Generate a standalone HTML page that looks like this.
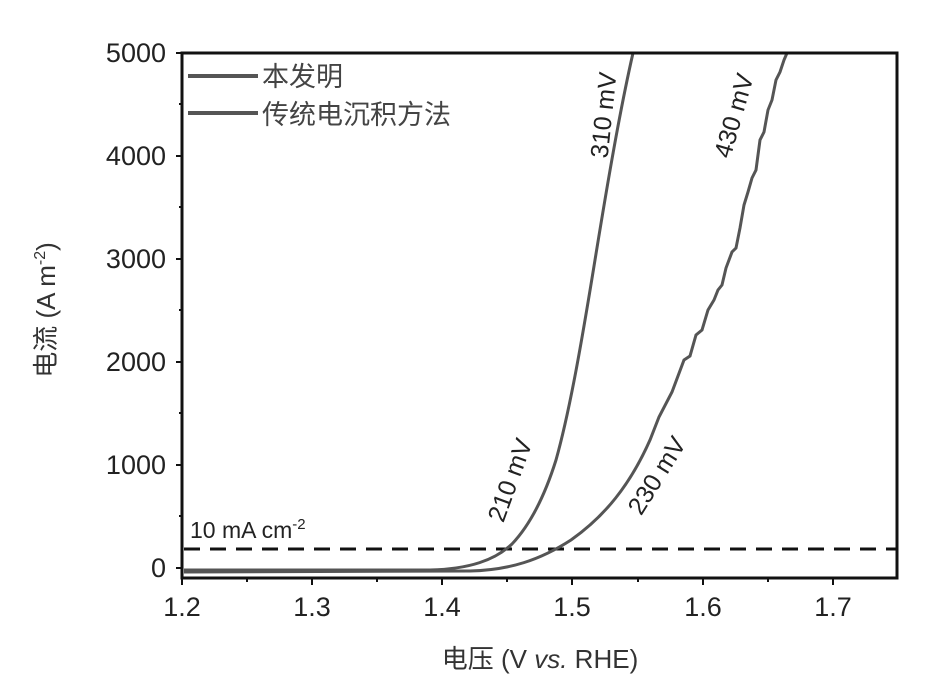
<!DOCTYPE html>
<html><head><meta charset="utf-8"><style>
body{margin:0;background:#fff}
svg text{font-family:"Liberation Sans","Noto Sans CJK SC",sans-serif;fill:#222}
</style></head><body>
<svg width="925" height="689" viewBox="0 0 925 689" xmlns="http://www.w3.org/2000/svg">
<g stroke="#111" stroke-width="2">
<line x1="182" y1="568" x2="176" y2="568"/><line x1="182" y1="465" x2="176" y2="465"/><line x1="182" y1="362" x2="176" y2="362"/><line x1="182" y1="259" x2="176" y2="259"/><line x1="182" y1="156" x2="176" y2="156"/><line x1="182" y1="53" x2="176" y2="53"/>
<line x1="182" y1="516" x2="179" y2="516"/><line x1="182" y1="413" x2="179" y2="413"/><line x1="182" y1="310" x2="179" y2="310"/><line x1="182" y1="207" x2="179" y2="207"/><line x1="182" y1="104" x2="179" y2="104"/>
<line x1="182" y1="578" x2="182" y2="585"/><line x1="312" y1="578" x2="312" y2="585"/><line x1="442" y1="578" x2="442" y2="585"/><line x1="572" y1="578" x2="572" y2="585"/><line x1="703" y1="578" x2="703" y2="585"/><line x1="833" y1="578" x2="833" y2="585"/>
<line x1="247" y1="578" x2="247" y2="582"/><line x1="377" y1="578" x2="377" y2="582"/><line x1="507" y1="578" x2="507" y2="582"/><line x1="638" y1="578" x2="638" y2="582"/><line x1="768" y1="578" x2="768" y2="582"/>
</g>
<line x1="184" y1="549" x2="897" y2="549" stroke="#111" stroke-width="3" stroke-dasharray="16,10"/>
<path d="M184,570 L430,570 C470,569 495,560 512,544 C530,525 545,495 556,460 C570,410 582,340 595,260 C608,180 620,110 633,53" fill="none" stroke="#555" stroke-width="3"/>
<path d="M184,572 L470,571 C510,570 540,560 571,540 C605,516 630,485 650,440 L659,417 L672,392 L684,360 L690,356 L696,335 L702,330 L708,310 L714,300 L718,290 L722,285 L726,268 L732,252 L736,248 L740,228 L744,205 L748,192 L752,178 L756,170 L760,140 L764,132 L768,110 L772,100 L776,80 L780,72 L784,60 L787,53" fill="none" stroke="#555" stroke-width="3"/>
<rect x="182" y="53" width="715" height="525" fill="none" stroke="#111" stroke-width="3"/>
<g font-size="27" text-anchor="end">
<text x="166" y="62">5000</text><text x="166" y="165">4000</text><text x="166" y="268">3000</text><text x="166" y="371">2000</text><text x="166" y="474">1000</text><text x="166" y="577">0</text>
</g>
<g font-size="27" text-anchor="middle">
<text x="182" y="616">1.2</text><text x="312" y="616">1.3</text><text x="442" y="616">1.4</text><text x="572" y="616">1.5</text><text x="703" y="616">1.6</text><text x="833" y="616">1.7</text>
</g>
<line x1="188" y1="76" x2="258" y2="76" stroke="#555" stroke-width="4"/>
<line x1="188" y1="113" x2="258" y2="113" stroke="#555" stroke-width="4"/>
<text x="262" y="86" font-size="27" style="fill:#444">本发明</text>
<text x="262" y="124" font-size="27" style="fill:#444">传统电沉积方法</text>
<text x="190" y="538" font-size="23">10 mA cm<tspan dy="-9" font-size="15">-2</tspan></text>
<g font-size="25">
<text transform="translate(612,116) rotate(-84)" text-anchor="middle">310 mV</text>
<text transform="translate(742,118) rotate(-74)" text-anchor="middle">430 mV</text>
<text transform="translate(518,483) rotate(-70)" text-anchor="middle">210 mV</text>
<text transform="translate(664,480) rotate(-58)" text-anchor="middle">230 mV</text>
</g>
<text x="540" y="668" font-size="26" text-anchor="middle" style="fill:#333">电压 (V <tspan font-style="italic">vs.</tspan> RHE)</text>
<text transform="translate(55,310) rotate(-90)" font-size="26" text-anchor="middle" style="fill:#333">电流 (A m<tspan dy="-10" font-size="16">-2</tspan><tspan dy="10">)</tspan></text>
</svg>
</body></html>
